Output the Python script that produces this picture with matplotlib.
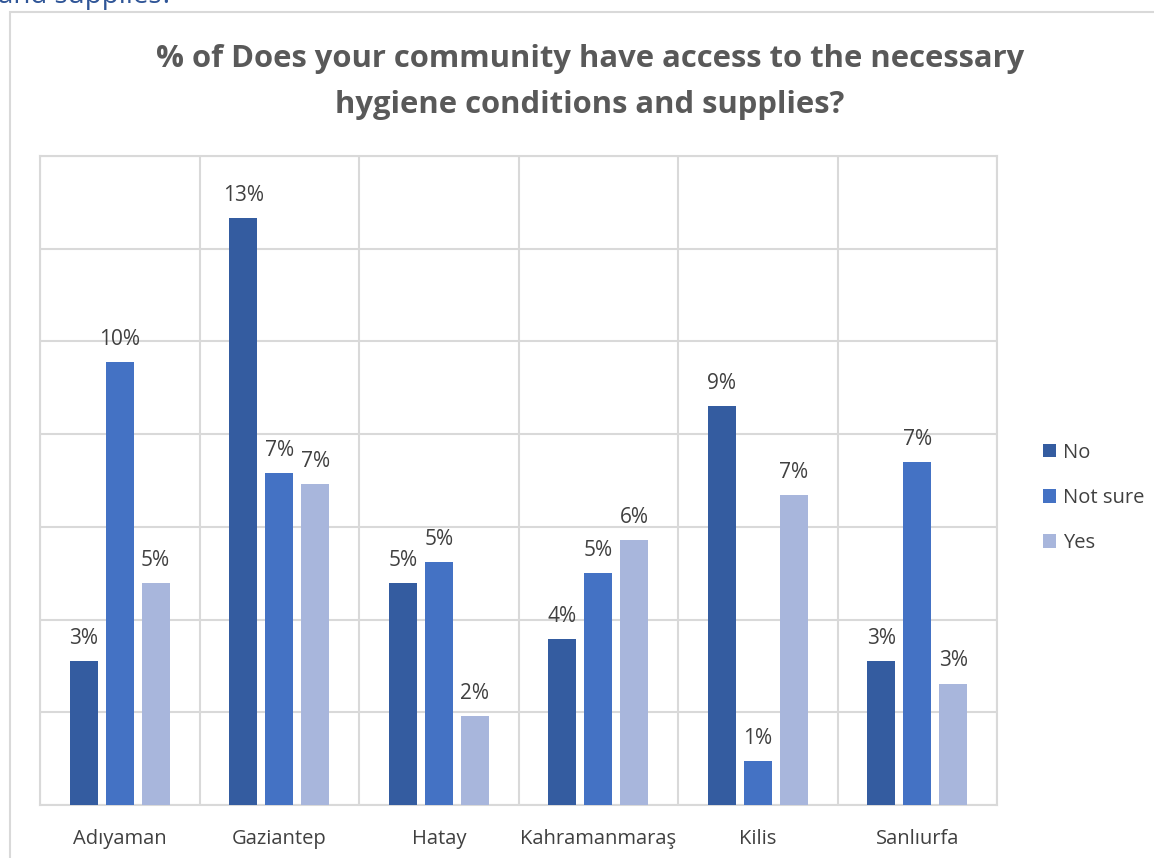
import matplotlib
matplotlib.use("Agg")
import matplotlib.pyplot as plt
from matplotlib.patches import Rectangle
import numpy as np

# Share of respondents (%) per province and answer
provinces = ["Adıyaman", "Gaziantep", "Hatay", "Kahramanmaraş", "Kilis", "Sanlıurfa"]
answers = ["No", "Not sure", "Yes"]
no_vals = [3.11, 12.66, 4.79, 3.58, 8.61, 3.11]
not_sure_vals = [9.56, 7.16, 5.24, 5.00, 0.95, 7.40]
yes_vals = [4.79, 6.92, 1.92, 5.72, 6.69, 2.62]
title = "% of Does your community have access to the necessary\nhygiene conditions and supplies?"

colors = ["#345CA0", "#4472C4", "#A8B6DC"]
font = "Open Sans"
text_color = "#404040"
grid_color = "#D9D9D9"

fig = plt.figure(figsize=(11.54, 8.58), dpi=100)

# chart frame and a clipped line of text above it
fig.patches.append(Rectangle((10 / 1154, -0.1), 1.2, 1 - 12 / 858 + 0.1,
                             transform=fig.transFigure, fill=False,
                             edgecolor=grid_color, linewidth=1.5))
fig.text(-2 / 1154, 1 - 3 / 858, "and supplies?", family=font, fontsize=20,
         color="#2F5597", ha="left", va="baseline")

fig.text(590 / 1154, 1 - 82 / 858, title, family=font, fontsize=22.3,
         fontweight="bold", color="#595959", ha="center", va="center",
         linespacing=1.7)

ax = fig.add_axes([40 / 1154, 1 - 805 / 858, (997 - 40) / 1154, (805 - 156) / 858])

x = np.arange(len(provinces))
width = 0.176
step = 0.225
series = [no_vals, not_sure_vals, yes_vals]
for i, (name, vals, c) in enumerate(zip(answers, series, colors)):
    pos = x + (i - 1) * step
    bars = ax.bar(pos, vals, width, color=c, label=name, zorder=3)
    for b, v in zip(bars, vals):
        ax.text(b.get_x() + b.get_width() / 2, v + 0.26, f"{v:.0f}%",
                ha="center", va="bottom", family=font, fontsize=15,
                color=text_color, zorder=4)

ax.set_xlim(-0.5, len(provinces) - 0.5)
ax.set_ylim(0, 14)
ax.set_yticks(np.arange(0, 15, 2))
ax.set_yticklabels([])
ax.tick_params(axis="y", length=0)
ax.set_xticks(x)
ax.set_xticklabels(provinces, family=font, fontsize=14.5, color=text_color)
ax.set_xticks(np.arange(-0.5, len(provinces), 1), minor=True)
ax.tick_params(axis="x", which="both", length=0, pad=17)
ax.grid(axis="y", which="major", color=grid_color, linewidth=1.5, zorder=0)
ax.grid(axis="x", which="minor", color=grid_color, linewidth=1.5, zorder=0)
ax.grid(axis="x", which="major", visible=False)
for s in ax.spines.values():
    s.set_color(grid_color)
    s.set_linewidth(1.5)

leg = fig.legend(loc="center left", bbox_to_anchor=(1025 / 1154, 1 - 498 / 858),
                 frameon=False, handlelength=0.65, handleheight=0.65,
                 handletextpad=0.35, labelspacing=1.25,
                 prop={"family": font, "size": 14.5})
for t in leg.get_texts():
    t.set_color(text_color)

fig.savefig("out.png", dpi=100, facecolor="white")
